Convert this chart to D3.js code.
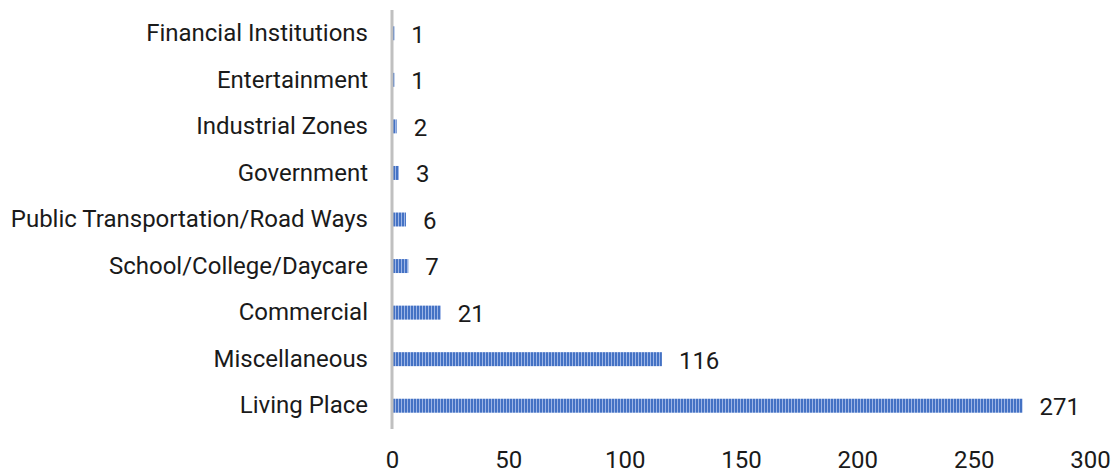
<!DOCTYPE html>
<html>
<head>
<meta charset="utf-8">
<script src="https://cdn.jsdelivr.net/npm/d3@7"></script>
<style>
  body { margin: 0; background: #fff; }
  text { font-family: Roboto, "Noto Sans", sans-serif; fill: #1a1a1a; }
</style>
</head>
<body>
<script>
// data, top to bottom as drawn
var categories = ['Financial Institutions', 'Entertainment', 'Industrial Zones', 'Government',
    'Public Transportation/Road Ways', 'School/College/Daycare', 'Commercial',
    'Miscellaneous', 'Living Place'];
var values = [1, 1, 2, 3, 6, 7, 21, 116, 271];
var xTicks = [0, 50, 100, 150, 200, 250, 300];

var svgWidth = 1117, svgHeight = 474;
var fontSize = 24;

var svg = d3.select('body')
    .append('svg')
    .attr('width', svgWidth)
    .attr('height', svgHeight);

// striped fill like the original
var pat = svg.append('defs').append('pattern')
    .attr('id', 'stripes')
    .attr('patternUnits', 'userSpaceOnUse')
    .attr('width', 3)
    .attr('height', 10);
pat.append('rect').attr('width', 3).attr('height', 10).attr('fill', '#9db5e6');
pat.append('rect').attr('width', 2).attr('height', 10).attr('fill', '#4472c4');

var xScale = d3.scaleLinear()
    .domain([0, 300])
    .range([392, 1090]);

var yScale = d3.scaleBand()
    .domain(categories)
    .range([10, 429])
    .paddingInner(0.7)
    .paddingOuter(0.35);

var data = categories.map(function(c, i) { return { name: c, value: values[i] }; });

svg.selectAll('rect.bar')
    .data(data)
    .enter()
    .append('rect')
    .attr('class', 'bar')
    .attr('x', xScale(0) + 1)
    .attr('y', function(d) { return yScale(d.name); })
    .attr('width', function(d) { return Math.max(0, xScale(d.value) - xScale(0) - 1); })
    .attr('height', yScale.bandwidth())
    .attr('fill', 'url(#stripes)');

// value labels
svg.selectAll('text.val')
    .data(data)
    .enter()
    .append('text')
    .attr('class', 'val')
    .attr('x', function(d) { return xScale(d.value) + 17; })
    .attr('y', function(d) { return yScale(d.name) + yScale.bandwidth() / 2 + 1; })
    .attr('dy', '0.35em')
    .attr('font-size', fontSize)
    .text(function(d) { return d.value; });

// category axis
var yAxis = d3.axisLeft(yScale).tickSize(0).tickPadding(24);
var gy = svg.append('g')
    .attr('transform', 'translate(' + xScale(0) + ',0)')
    .call(yAxis);
gy.select('.domain').remove();
gy.selectAll('text').attr('font-size', fontSize).style('fill', '#1a1a1a');

// vertical baseline
svg.append('line')
    .attr('x1', xScale(0)).attr('x2', xScale(0))
    .attr('y1', 10).attr('y2', 429)
    .attr('stroke', '#c0c0c0')
    .attr('stroke-width', 3);

// value axis, labels only
var xAxis = d3.axisBottom(xScale).tickValues(xTicks).tickSize(0).tickPadding(0);
var gx = svg.append('g')
    .attr('transform', 'translate(0,451)')
    .call(xAxis);
gx.select('.domain').remove();
gx.selectAll('text').attr('font-size', fontSize).style('fill', '#1a1a1a');
</script>
</body>
</html>
